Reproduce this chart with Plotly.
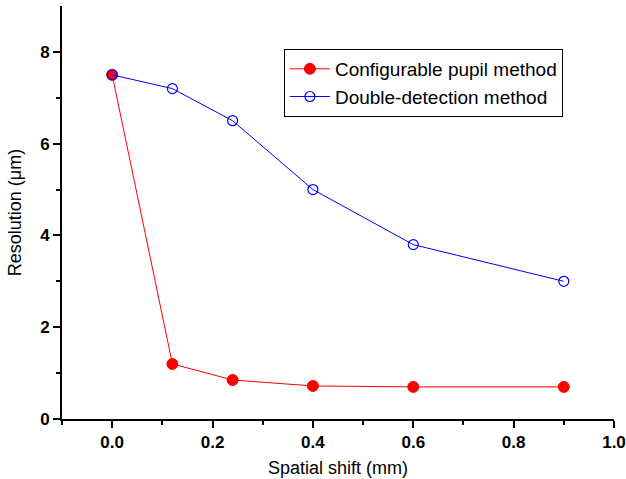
import plotly.graph_objects as go

shift_mm = [0.0, 0.12, 0.24, 0.4, 0.6, 0.9]
pupil_res = [7.5, 1.2, 0.85, 0.72, 0.7, 0.7]
double_res = [7.5, 7.2, 6.5, 5.0, 3.8, 3.0]

fig = go.Figure()
fig.add_trace(go.Scatter(
    x=shift_mm, y=pupil_res, mode="lines+markers", name="Configurable pupil method",
    line=dict(color="#ff0000", width=1),
    marker=dict(symbol="circle", size=11, color="#ff0000", line=dict(color="#ff0000", width=1)),
))
fig.add_trace(go.Scatter(
    x=shift_mm, y=double_res, mode="lines+markers", name="Double-detection method",
    line=dict(color="#0000ff", width=1),
    marker=dict(symbol="circle-open", size=10, color="#0000ff", line=dict(width=1.2)),
))

tickfont = dict(family="Liberation Sans, Arial", size=17, color="black", weight="bold")
titlefont = dict(family="Liberation Sans, Arial", size=18, color="black")
fig.update_layout(
    width=626, height=479,
    margin=dict(l=62, r=12, t=6, b=60),
    paper_bgcolor="white", plot_bgcolor="white",
    showlegend=True,
    legend=dict(
        x=0.402, y=0.896, xanchor="left", yanchor="top",
        bgcolor="white", bordercolor="black", borderwidth=1,
        font=dict(family="Liberation Sans, Arial", size=19, color="black"),
        tracegroupgap=0, itemwidth=40, entrywidth=245, entrywidthmode="pixels",
    ),
    xaxis=dict(
        range=[-0.1, 1.0], tickvals=[0, 0.2, 0.4, 0.6, 0.8, 1.0],
        ticktext=["0.0", "0.2", "0.4", "0.6", "0.8", "1.0"],
        showline=True, linecolor="black", linewidth=2, automargin=False,
        ticks="outside", ticklen=7, tickwidth=2, tickcolor="black",
        minor=dict(tickvals=[-0.1, 0.1, 0.3, 0.5, 0.7, 0.9], ticks="outside", ticklen=4, tickwidth=2, tickcolor="black"),
        showgrid=False, zeroline=False, tickfont=tickfont,
        title=dict(text="Spatial shift (mm)", font=titlefont, standoff=10),
    ),
    yaxis=dict(
        range=[0, 9], tickvals=[0, 2, 4, 6, 8],
        showline=True, linecolor="black", linewidth=2, automargin=False,
        ticks="outside", ticklen=7, tickwidth=2, tickcolor="black",
        minor=dict(tickvals=[1, 3, 5, 7], ticks="outside", ticklen=4, tickwidth=2, tickcolor="black"),
        showgrid=False, zeroline=False, tickfont=tickfont,
        title=dict(text="Resolution (μm)", font=titlefont, standoff=14),
    ),
)

fig.write_html("out.html", config={"displayModeBar": False},
               post_script="document.body.style.margin='0';document.body.style.padding='0';")
